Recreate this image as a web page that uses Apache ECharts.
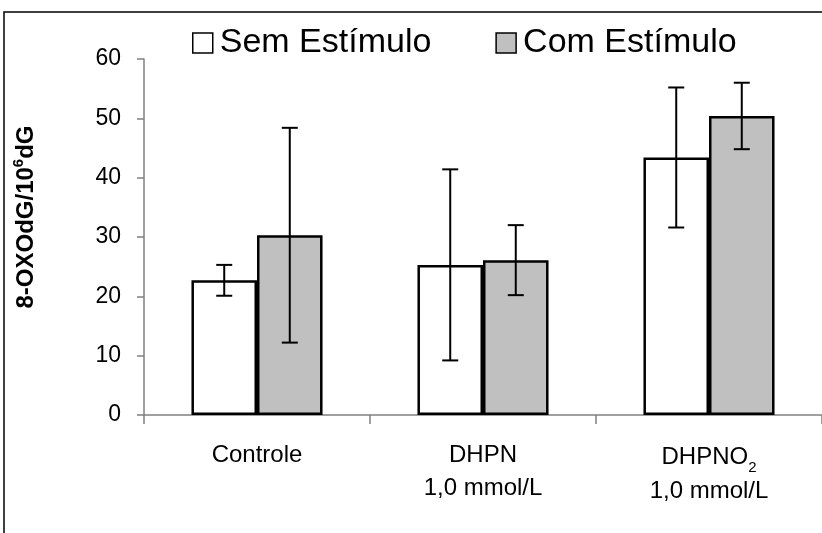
<!DOCTYPE html>
<html>
<head>
<meta charset="utf-8">
<script src="https://cdn.jsdelivr.net/npm/echarts@6/dist/echarts.min.js"></script>
<style>
html,body{margin:0;padding:0;background:#fff;}
#chart{width:822px;height:533px;}
</style>
</head>
<body>
<div id="chart"></div>
<script>
const categories = ['Controle', 'DHPN\n1,0 mmol/L', 'DHPNO2\n1,0 mmol/L'];
const seriesNames = ['Sem Estímulo', 'Com Estímulo'];
const semValues = [22.7, 25.3, 43.4];
const semSD = [2.6, 16.1, 11.8];
const comValues = [30.3, 26.1, 50.4];
const comSD = [18.1, 5.9, 5.6];
const yTicks = [0, 10, 20, 30, 40, 50, 60];

const FONT = '"Liberation Sans", Arial, sans-serif';
const BAR_PCT = 0.29;

const chart = echarts.init(document.getElementById('chart'), null, {renderer: 'canvas'});

function errorSeries(values, sd, side) {
  return {
    type: 'custom',
    z: 5,
    silent: true,
    data: values.map((v, i) => [i, v - sd[i], v + sd[i]]),
    renderItem: function (params, api) {
      const band = api.size([1, 0])[0];
      const off = side * band * BAR_PCT / 2;
      const lo = api.coord([api.value(0), api.value(1)]);
      const hi = api.coord([api.value(0), api.value(2)]);
      const x = lo[0] + off;
      const cap = 8;
      const style = {stroke: '#000', lineWidth: 2};
      return {
        type: 'group',
        children: [
          {type: 'line', shape: {x1: x, y1: lo[1], x2: x, y2: hi[1]}, style},
          {type: 'line', shape: {x1: x - cap, y1: lo[1], x2: x + cap, y2: lo[1]}, style},
          {type: 'line', shape: {x1: x - cap, y1: hi[1], x2: x + cap, y2: hi[1]}, style}
        ]
      };
    }
  };
}

const option = {
  backgroundColor: '#fff',
  animation: false,
  graphic: [{
    type: 'rect',
    shape: {x: 4, y: 12, width: 900, height: 700},
    style: {fill: 'none', stroke: '#000', lineWidth: 1.5},
    silent: true
  }],
  legend: {
    left: 187,
    top: 21,
    itemWidth: 20,
    itemHeight: 20,
    itemGap: 64,
    icon: 'rect',
    itemStyle: {borderColor: '#000', borderWidth: 1.5},
    textStyle: {fontFamily: FONT, fontSize: 34, color: '#000', padding: [0, 0, 0, 2]},
    data: seriesNames
  },
  grid: {left: 144, right: -6, top: 59, bottom: 118, containLabel: false},
  xAxis: {
    type: 'category',
    data: categories,
    axisLine: {lineStyle: {color: '#808080', width: 1.5}},
    axisTick: {show: true, length: 9, lineStyle: {color: '#808080', width: 1.5}},
    axisLabel: {
      interval: 0,
      hideOverlap: false,
      margin: 24,
      fontFamily: FONT,
      fontSize: 24,
      color: '#000',
      lineHeight: 33,
      formatter: function (v) {
        return v.split('\n').map(function (line) {
          if (line === 'DHPNO2') return '{a|DHPNO}{sub|2}';
          return '{a|' + line + '}';
        }).join('\n');
      },
      rich: {
        a: {fontFamily: FONT, fontSize: 24, color: '#000', lineHeight: 33},
        sub: {fontFamily: FONT, fontSize: 15, color: '#000', verticalAlign: 'bottom', lineHeight: 36}
      }
    }
  },
  yAxis: {
    type: 'value',
    min: yTicks[0],
    max: yTicks[yTicks.length - 1],
    interval: 10,
    splitLine: {show: false},
    axisLine: {show: true, lineStyle: {color: '#808080', width: 1.5}},
    axisTick: {show: true, length: 7, lineStyle: {color: '#808080', width: 1.5}},
    axisLabel: {fontFamily: FONT, fontSize: 23, color: '#000', margin: 23},
    name: '{b|8-OXOdG/10}{sup|6}{b|dG}',
    nameLocation: 'middle',
    nameRotate: 90,
    nameGap: 103,
    nameTextStyle: {
      padding: [0, 0, 0, 40],
      rich: {
        b: {fontFamily: FONT, fontSize: 24, fontWeight: 'bold', color: '#000', lineHeight: 30},
        sup: {fontFamily: FONT, fontSize: 15, fontWeight: 'bold', color: '#000', verticalAlign: 'top', lineHeight: 20}
      }
    }
  },
  series: [
    {
      name: seriesNames[0],
      type: 'bar',
      data: semValues,
      barWidth: (BAR_PCT * 100) + '%',
      barGap: '0%',
      itemStyle: {color: '#ffffff', borderColor: '#000', borderWidth: 2.5}
    },
    {
      name: seriesNames[1],
      type: 'bar',
      data: comValues,
      barWidth: (BAR_PCT * 100) + '%',
      barGap: '0%',
      itemStyle: {color: '#c0c0c0', borderColor: '#000', borderWidth: 2.5}
    },
    errorSeries(semValues, semSD, -1),
    errorSeries(comValues, comSD, 1)
  ]
};
chart.setOption(option);
</script>
</body>
</html>
